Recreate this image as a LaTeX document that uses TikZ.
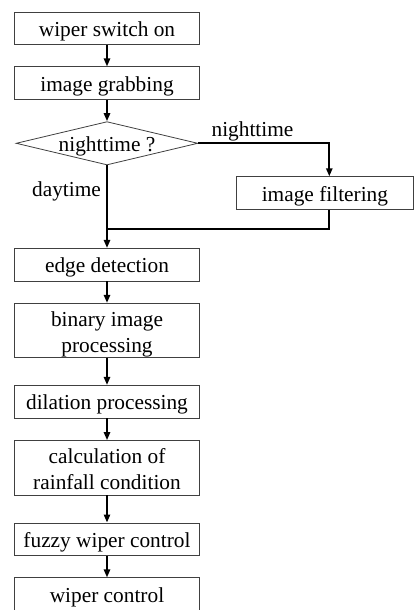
\documentclass[tikz,border=0pt]{standalone}
\usepackage{fontspec}
\setmainfont{Liberation Serif}
\usetikzlibrary{shapes.geometric,arrows.meta}

\tikzset{
  txt/.style={font=\fontsize{16}{19.4}\selectfont},
  box/.style={txt, draw=black!75, line width=0.6pt, rectangle, inner sep=0pt,
    minimum width=138.75pt, align=center},
  onerow/.style={minimum height=24.5pt, text height=12.4pt, text depth=0pt},
  tworow/.style={minimum height=40.8pt, text height=34pt, text depth=1.3pt},
  decision/.style={txt, draw=black!75, line width=0.6pt, diamond, inner sep=0pt,
    aspect=4.1, minimum width=136.3pt, minimum height=32.5pt,
    text height=12.6pt, text depth=0pt},
  lbl/.style={txt, inner sep=0pt, anchor=base},
  flow/.style={line width=1.5pt, draw=black},
  arr/.style={flow, -{Triangle[length=6pt,width=4.6pt]}},
}

\begin{document}
\begin{tikzpicture}[x=0.75pt, y=-0.75pt]
  \useasboundingbox (0,0) rectangle (414,610);

  % main column
  \node[box, onerow] (on)    at (107, 28.3)  {wiper switch on};
  \node[box, onerow] (grab)  at (107, 83.2)  {image grabbing};
  \node[decision]    (night) at (107, 143.3) {nighttime ?};
  \node[box, onerow, minimum width=132.2pt, minimum height=24.4pt] (filt) at (324.9, 193) {image filtering};
  \node[box, onerow] (edge)  at (107, 264.7) {edge detection};
  \node[box, tworow] (bin)   at (107, 330.5) {binary image\\processing};
  \node[box, onerow] (dil)   at (107, 401.7) {dilation processing};
  \node[box, tworow] (calc)  at (107, 467.8) {calculation of\\rainfall condition};
  \node[box, onerow] (fuzzy) at (107, 539.3) {fuzzy wiper control};
  \node[box, onerow] (wip)   at (107, 594.2) {wiper control};

  % branch labels
  \node[lbl] (lnight) at (252.5, 136)   {nighttime};
  \node[lbl] (lday)   at (66.5, 196.5)  {daytime};

  % branch column and merge point
  \coordinate (fx) at (329.3, 0);
  \coordinate (merge) at (107, 228.6);

  % connectors
  \draw[arr] (on) -- (grab);
  \draw[arr] (grab) -- (night);
  \draw[arr] (night.east) -| (fx |- filt.north);
  \draw[flow] (fx |- filt.south) |- (merge);
  \draw[arr] (night.south) -- (edge.north);
  \draw[arr] (edge) -- (bin);
  \draw[arr] (bin) -- (dil);
  \draw[arr] (dil) -- (calc);
  \draw[arr] (calc) -- (fuzzy);
  \draw[arr] (fuzzy) -- (wip);
\end{tikzpicture}
\end{document}
